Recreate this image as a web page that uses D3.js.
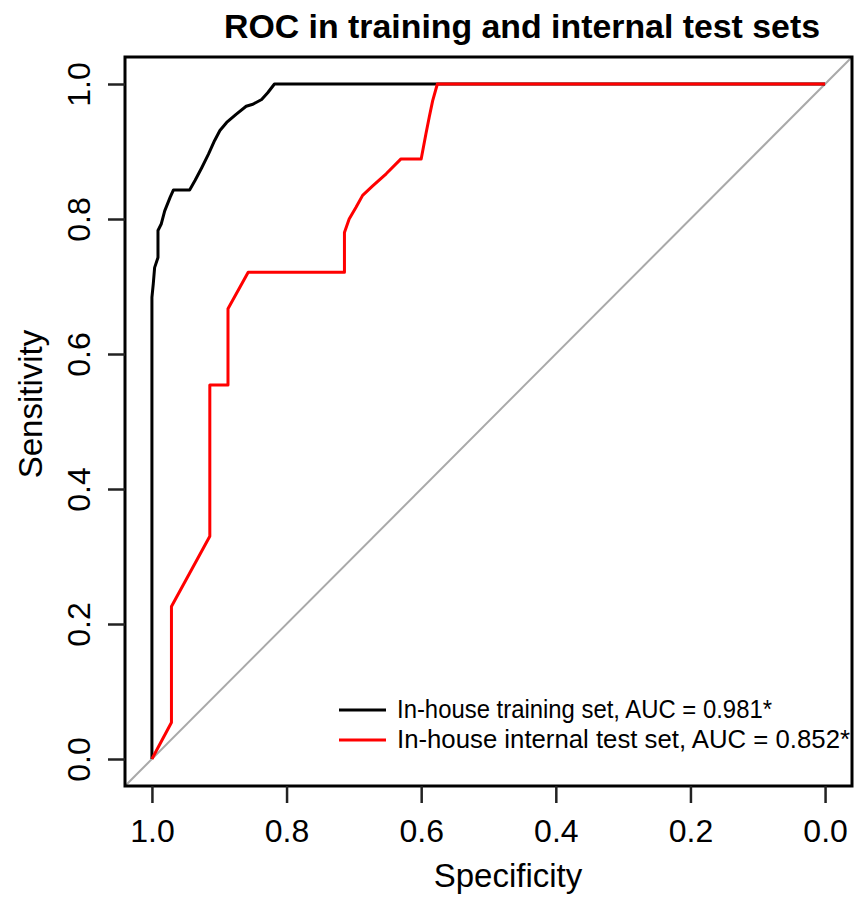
<!DOCTYPE html>
<html lang="en">
<head>
  <meta charset="UTF-8">
  <title>ROC in training and internal test sets</title>
  <script src="https://d3js.org/d3.v7.min.js"></script>
  <style>
    body, html {
      margin: 0;
      padding: 0;
      background: #fff;
    }
    svg text {
      font-family: "Liberation Sans", Arial, sans-serif;
      fill: #000;
    }
  </style>
</head>
<body>
  <svg width="861" height="897"></svg>
  <script>
    // ROC points (specificity, sensitivity)
    const trainSpec = [1, 1, 0.998, 0.996, 0.991, 0.991, 0.986, 0.981, 0.973, 0.968, 0.944, 0.936, 0.926, 0.916, 0.907, 0.899, 0.889, 0.875, 0.860, 0.850, 0.837, 0.828, 0.818, 0];
    const trainSens = [0, 0.684, 0.704, 0.728, 0.743, 0.783, 0.793, 0.812, 0.832, 0.843, 0.843, 0.857, 0.876, 0.896, 0.916, 0.931, 0.943, 0.955, 0.967, 0.970, 0.977, 0.987, 1, 1];

    const testSpec = [1, 0.971, 0.971, 0.914, 0.914, 0.887, 0.887, 0.857, 0.714, 0.714, 0.707, 0.697, 0.687, 0.672, 0.652, 0.630, 0.600, 0.593, 0.588, 0.583, 0.576, 0];
    const testSens = [0, 0.054, 0.226, 0.330, 0.554, 0.554, 0.667, 0.721, 0.721, 0.780, 0.800, 0.817, 0.835, 0.849, 0.867, 0.889, 0.889, 0.926, 0.951, 0.975, 1, 1];

    const xTicks = [1.0, 0.8, 0.6, 0.4, 0.2, 0.0];
    const yTicks = [0.0, 0.2, 0.4, 0.6, 0.8, 1.0];
    const legendLabels = ['In-house training set, AUC = 0.981*', 'In-house internal test set, AUC = 0.852*'];
    const seriesColors = ['#000000', '#ff0000'];

    const svg = d3.select('svg');

    // plot box, R style with 4% padding
    const boxLeft = 125, boxRight = 852, boxTop = 57, boxBottom = 786;
    const x = d3.scaleLinear().domain([1.04, -0.04]).range([boxLeft, boxRight]);
    const y = d3.scaleLinear().domain([-0.04, 1.04]).range([boxBottom, boxTop]);

    // chance diagonal
    svg.append('line')
      .attr('x1', x(1.04)).attr('y1', y(-0.04))
      .attr('x2', x(-0.04)).attr('y2', y(1.04))
      .attr('stroke', '#a9a9a9')
      .attr('stroke-width', 2);

    const line = d3.line()
      .x((d) => x(d[0]))
      .y((d) => y(d[1]));

    const series = [
      d3.zip(trainSpec, trainSens),
      d3.zip(testSpec, testSens)
    ];

    series.forEach((pts, i) => {
      svg.append('path')
        .datum(pts)
        .attr('d', line)
        .attr('fill', 'none')
        .attr('stroke', seriesColors[i])
        .attr('stroke-width', 3)
        .attr('stroke-linejoin', 'round');
    });

    // box
    svg.append('rect')
      .attr('x', boxLeft).attr('y', boxTop)
      .attr('width', boxRight - boxLeft).attr('height', boxBottom - boxTop)
      .attr('fill', 'none')
      .attr('stroke', '#000')
      .attr('stroke-width', 3);

    // x axis
    const xAxis = d3.axisBottom(x)
      .tickValues(xTicks)
      .tickSize(17)
      .tickFormat(d3.format('.1f'));
    const gx = svg.append('g')
      .attr('transform', `translate(0,${boxBottom})`)
      .call(xAxis);
    gx.select('.domain').remove();
    gx.selectAll('.tick line').attr('stroke', '#222').attr('stroke-width', 2.5);
    gx.selectAll('.tick text')
      .attr('font-size', 32)
      .attr('fill', '#000')
      .attr('dy', null)
      .attr('y', 56);

    // y axis with rotated labels
    const yAxis = d3.axisLeft(y)
      .tickValues(yTicks)
      .tickSize(17)
      .tickFormat(d3.format('.1f'));
    const gy = svg.append('g')
      .attr('transform', `translate(${boxLeft},0)`)
      .call(yAxis);
    gy.select('.domain').remove();
    gy.selectAll('.tick line').attr('stroke', '#222').attr('stroke-width', 2.5);
    gy.selectAll('.tick text')
      .attr('font-size', 32)
      .attr('fill', '#000')
      .attr('x', null).attr('dy', null)
      .attr('text-anchor', 'middle')
      .attr('transform', 'translate(-35,0) rotate(-90)');

    // titles
    svg.append('text')
      .attr('x', 522).attr('y', 38)
      .attr('text-anchor', 'middle')
      .attr('font-size', 33)
      .attr('font-weight', 'bold')
      .attr('textLength', 596)
      .attr('lengthAdjust', 'spacingAndGlyphs')
      .text('ROC in training and internal test sets');

    svg.append('text')
      .attr('x', 508).attr('y', 887)
      .attr('text-anchor', 'middle')
      .attr('font-size', 33)
      .text('Specificity');

    svg.append('text')
      .attr('transform', 'translate(42,404) rotate(-90)')
      .attr('text-anchor', 'middle')
      .attr('font-size', 33)
      .text('Sensitivity');

    // legend
    const legendWidths = [375, 453];
    legendLabels.forEach((label, i) => {
      const ly = 710 + i * 30;
      svg.append('line')
        .attr('x1', 339).attr('x2', 386)
        .attr('y1', ly).attr('y2', ly)
        .attr('stroke', seriesColors[i])
        .attr('stroke-width', 3);
      svg.append('text')
        .attr('x', 397).attr('y', ly + 8)
        .attr('font-size', 25)
        .attr('fill', '#111')
        .attr('textLength', legendWidths[i])
        .attr('lengthAdjust', 'spacingAndGlyphs')
        .text(label);
    });
  </script>
</body>
</html>
